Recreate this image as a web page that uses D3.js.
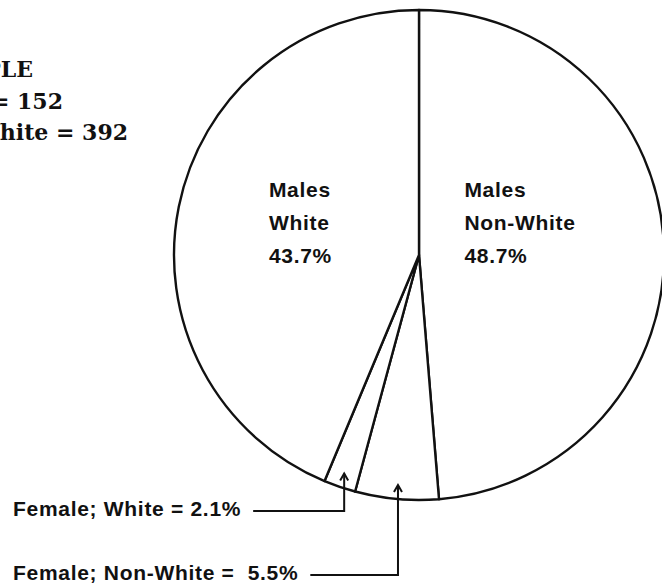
<!doctype html>
<html>
<head>
<meta charset="utf-8">
<style>
  body { margin: 0; background: #fff; }
  .lbl { font-family: "Liberation Sans", Arial, sans-serif; font-weight: bold; font-size: 21px; letter-spacing: 0.7px; fill: #111; white-space: pre; }
  .note { font-family: "DejaVu Serif", serif; font-weight: bold; font-size: 22px; fill: #111; }
</style>
<script src="https://d3js.org/d3.v7.min.js"></script>
</head>
<body>
<svg id="chart" width="662" height="588"></svg>
<script>
// slices, clockwise from the top
var categories = ["Males Non-White", "Female Non-White", "Female White", "Males White"];
var sexes = ["Males", "Female", "Female", "Males"];
var races = ["Non-White", "Non-White", "White", "White"];
var percents = [48.7, 5.5, 2.1, 43.7];

// sample note in the upper left (cut off by the page edge)
var noteLines = ["SAMPLE", "White = 152", "Non-White = 392"];

var svg = d3.select("#chart"),
    cx = 419, cy = 255, r = 245;

var data = categories.map(function(c, i) {
  return { name: c, sex: sexes[i], race: races[i], value: percents[i] };
});

var pie = d3.pie().sort(null).value(function(d) { return d.value; });
var arc = d3.arc().innerRadius(0).outerRadius(r);
var arcs = pie(data);

var g = svg.append("g").attr("transform", "translate(" + cx + "," + cy + ")");

g.selectAll("path")
  .data(arcs)
  .enter().append("path")
  .attr("d", arc)
  .attr("fill", "#fff")
  .attr("stroke", "#111")
  .attr("stroke-width", 2.4)
  .attr("stroke-linejoin", "round");

// inner labels for the two large slices
var inner = { "Males White": [-30, -34], "Males Non-White": [-77, -53] };
arcs.filter(function(a) { return inner[a.data.name]; }).forEach(function(a) {
  var c = arc.centroid(a), off = inner[a.data.name];
  var t = g.append("text").attr("class", "lbl");
  [a.data.sex, a.data.race, a.data.value.toFixed(1) + "%"].forEach(function(s, k) {
    t.append("tspan")
      .attr("x", c[0] + off[0])
      .attr("y", c[1] + off[1] + k * 33)
      .text(s);
  });
});

// callouts for the two thin slices
var callouts = [
  { name: "Female White", y: 516, text: function(d) { return "Female; White = " + d.value + "%"; } },
  { name: "Female Non-White", y: 580, text: function(d) { return "Female; Non-White =  " + d.value + "%"; } }
];

callouts.forEach(function(co) {
  var a = arcs.find(function(s) { return s.data.name === co.name; });
  var mid = (a.startAngle + a.endAngle) / 2;
  var tipX = cx + (r - 14) * Math.sin(mid),
      tipY = cy - (r - 14) * Math.cos(mid);

  var t = svg.append("text")
    .attr("class", "lbl")
    .attr("x", 13)
    .attr("y", co.y)
    .text(co.text(a.data));
  var end = 13 + t.node().getComputedTextLength() + 12;
  var ly = co.y - 5;

  svg.append("path")
    .attr("d", "M" + end + "," + ly + "H" + tipX + "V" + tipY)
    .attr("fill", "none")
    .attr("stroke", "#111")
    .attr("stroke-width", 2);

  svg.append("path")
    .attr("d", "M" + (tipX - 4) + "," + (tipY + 7) + "L" + tipX + "," + tipY + "L" + (tipX + 4) + "," + (tipY + 7))
    .attr("fill", "none")
    .attr("stroke", "#111")
    .attr("stroke-width", 2);
});

// note block, right-aligned so only its tail shows
var noteEnds = [33, 63, 128];
noteLines.forEach(function(s, i) {
  svg.append("text")
    .attr("class", "note")
    .attr("x", noteEnds[i])
    .attr("y", 77 + i * 31.5)
    .attr("text-anchor", "end")
    .text(s);
});
</script>
</body>
</html>
